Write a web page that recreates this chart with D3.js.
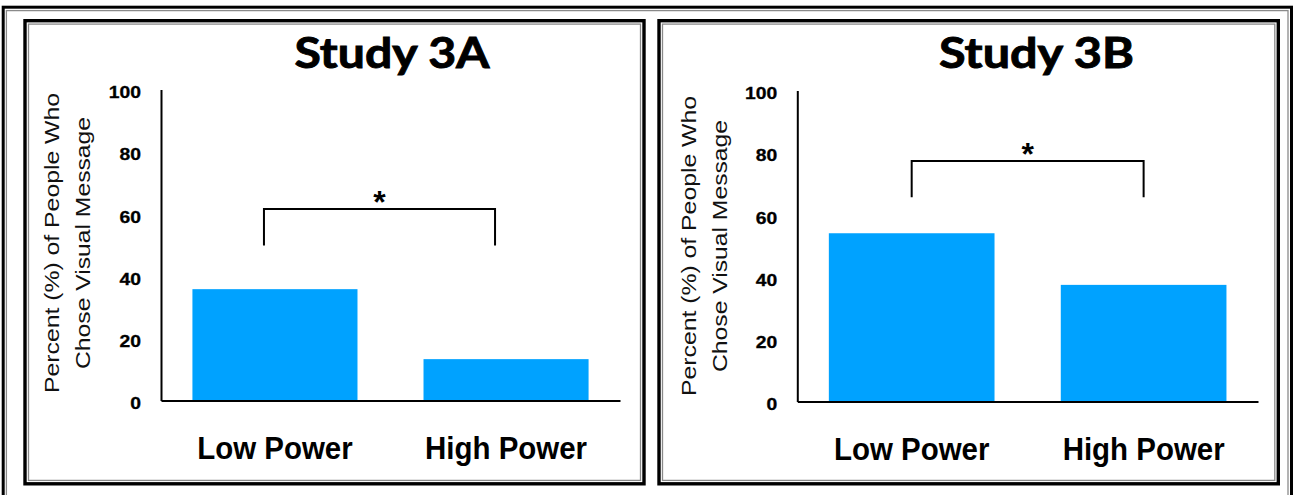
<!DOCTYPE html>
<html>
<head>
<meta charset="utf-8">
<script src="https://cdn.jsdelivr.net/npm/d3@7"></script>
<style>
  html, body { margin: 0; padding: 0; background: #fff; }
  svg { display: block; }
</style>
</head>
<body>
<svg id="chart" width="1298" height="495"></svg>
<script>
// Share of people who chose the visual message, by power condition
const studies = ["Study 3A", "Study 3B"];
const categories = ["Low Power", "High Power"];
const study3A = [35.8, 13.3];
const study3B = [54.1, 37.5];
const yTicks = [0, 20, 40, 60, 80, 100];
const yTitleLines = ["Percent (%) of People Who", "Chose Visual Message"];
// significance bracket: crossbar level and foot level (percent units)
const bracketTop = [61.6, 77.3];
const bracketFoot = [49.8, 65.7];
const sigMark = ["*", "*"];

const values = [study3A, study3B];

// panel geometry
const panels = [
  { frame: [25, 20.7, 644, 483.8], axisX: 161, axisEnd: 620, y0: 400.5, y100: 89.5, titleX: 392, bracketShift: -11,
    yTitleX: [59.3, 90.3], yTitleY: 243 },
  { frame: [659, 20.7, 1278.3, 483.8], axisX: 797.3, axisEnd: 1258, y0: 401.5, y100: 90.5, titleX: 1036.5, bracketShift: 0,
    yTitleX: [695.6, 726.6], yTitleY: 246 }
];

const svg = d3.select("#chart");
const BAR = "#00a2ff";

// outer double frame (bottom runs past the page edge)
svg.append("rect").attr("x", 3.2).attr("y", 7.2).attr("width", 1291.5 - 3.2).attr("height", 500)
  .attr("fill", "none").attr("stroke", "#000").attr("stroke-width", 3);
svg.append("rect").attr("x", 6.4).attr("y", 10.6).attr("width", 1288 - 6.4).attr("height", 500)
  .attr("fill", "none").attr("stroke", "#8a8a8a").attr("stroke-width", 1.3);

panels.forEach((p, i) => {
  const g = svg.append("g");
  const [fx1, fy1, fx2, fy2] = p.frame;

  // panel double frame
  g.append("rect").attr("x", fx1).attr("y", fy1).attr("width", fx2 - fx1).attr("height", fy2 - fy1)
    .attr("fill", "#fff").attr("stroke", "#000").attr("stroke-width", 3.4);
  g.append("rect").attr("x", fx1 + 3.5).attr("y", fy1 + 3.4).attr("width", fx2 - fx1 - 7).attr("height", fy2 - fy1 - 6.8)
    .attr("fill", "none").attr("stroke", "#8a8a8a").attr("stroke-width", 1.3);

  const x = d3.scaleBand().domain(categories).range([p.axisX, p.axisEnd])
    .paddingInner(0.2857).paddingOuter(0.136);
  const y = d3.scaleLinear().domain([0, 100]).range([p.y0, p.y100]);

  // bars
  g.selectAll("rect.bar").data(categories).join("rect")
    .attr("class", "bar")
    .attr("x", d => x(d))
    .attr("width", x.bandwidth())
    .attr("y", (d, j) => y(values[i][j]))
    .attr("height", (d, j) => y(0) - y(values[i][j]))
    .attr("fill", BAR);

  // y axis: line plus bold labels, no tick marks
  const yAxis = g.append("g").attr("transform", `translate(${p.axisX},0)`)
    .call(d3.axisLeft(y).tickValues(yTicks).tickFormat(d3.format("d")).tickSize(0).tickSizeOuter(0).tickPadding(20));
  yAxis.select(".domain").attr("stroke", "#000").attr("stroke-width", 2);
  yAxis.selectAll(".tick text")
    .attr("font-family", "'Liberation Sans', Arial, sans-serif")
    .attr("font-weight", "bold")
    .attr("font-size", 16.5)
    .attr("fill", "#000")
    .attr("stroke", "#000").attr("stroke-width", 0.3)
    .attr("dy", "0.5em")
    .each(function () {
      const w = this.getComputedTextLength();
      d3.select(this).attr("textLength", w * 1.17).attr("lengthAdjust", "spacingAndGlyphs");
    });

  // x axis: baseline and category labels
  const xAxis = g.append("g").attr("transform", `translate(0,${y(0)})`)
    .call(d3.axisBottom(x).tickSize(0).tickSizeOuter(0).tickPadding(36));
  xAxis.select(".domain").attr("stroke", "#000").attr("stroke-width", 2.2);
  xAxis.selectAll(".tick text")
    .attr("font-family", "'Liberation Sans', Arial, sans-serif")
    .attr("font-weight", "bold")
    .attr("font-size", 31)
    .attr("fill", "#000")
    .attr("dy", "0.71em")
    .each(function () {
      const w = this.getComputedTextLength();
      d3.select(this).attr("textLength", w * 0.95).attr("lengthAdjust", "spacingAndGlyphs");
    });

  // title
  g.append("text")
    .attr("x", p.titleX).attr("y", 68)
    .attr("text-anchor", "middle")
    .attr("font-family", "Lato, 'Open Sans', sans-serif")
    .attr("font-weight", "bold")
    .attr("font-size", 42)
    .attr("textLength", 195).attr("lengthAdjust", "spacingAndGlyphs")
    .attr("fill", "#000")
    .attr("stroke", "#000").attr("stroke-width", 0.9)
    .text(studies[i]);

  // rotated y title, two lines
  yTitleLines.forEach((line, k) => {
    g.append("text")
      .attr("transform", `translate(${p.yTitleX[k]},${p.yTitleY}) rotate(-90)`)
      .attr("text-anchor", "middle")
      .attr("font-family", "'Liberation Sans', Arial, sans-serif")
      .attr("font-size", 20)
      .attr("textLength", k === 0 ? 300 : 252).attr("lengthAdjust", "spacingAndGlyphs")
      .attr("fill", "#111")
      .text(line);
  });

  // significance bracket between the two bars
  const bx1 = x(categories[0]) + x.bandwidth() / 2 + p.bracketShift;
  const bx2 = x(categories[1]) + x.bandwidth() / 2 + p.bracketShift;
  const path = d3.path();
  path.moveTo(bx1, y(bracketFoot[i]));
  path.lineTo(bx1, y(bracketTop[i]));
  path.lineTo(bx2, y(bracketTop[i]));
  path.lineTo(bx2, y(bracketFoot[i]));
  g.append("path").attr("d", path.toString())
    .attr("fill", "none").attr("stroke", "#000").attr("stroke-width", 2);

  g.append("text")
    .attr("x", (bx1 + bx2) / 2)
    .attr("y", y(bracketTop[i]) + 4)
    .attr("text-anchor", "middle")
    .attr("font-family", "'Liberation Sans', Arial, sans-serif")
    .attr("font-weight", "bold")
    .attr("font-size", 32)
    .attr("fill", "#000")
    .text(sigMark[i]);
});
</script>
</body>
</html>
